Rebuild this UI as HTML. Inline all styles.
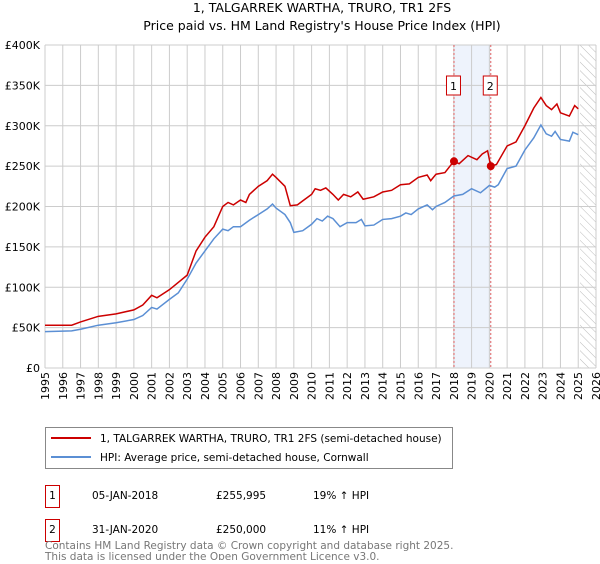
<!DOCTYPE html>
<html><head><meta charset="utf-8"><style>
body{margin:0;background:#fff;font-family:"DejaVu Sans","Liberation Sans",sans-serif;}
svg text{font-family:"DejaVu Sans","Liberation Sans",sans-serif;}
</style></head><body>
<svg id="c" width="600" height="560" xmlns="http://www.w3.org/2000/svg">
<defs><pattern id="hatch" width="6" height="6" patternUnits="userSpaceOnUse" patternTransform="rotate(-45)"><line x1="0" y1="0" x2="0" y2="6" stroke="#bbb" stroke-width="1"/></pattern></defs>
<text x="322" y="12" text-anchor="middle" font-size="12.5" fill="#000">1, TALGARREK WARTHA, TRURO, TR1 2FS</text>
<text x="322" y="30" text-anchor="middle" font-size="12.5" fill="#000">Price paid vs. HM Land Registry's House Price Index (HPI)</text>
<g id="grid"></g><g id="marks"></g><g id="axes"></g>
<rect x="45.5" y="427.5" width="407" height="41" fill="#fff" stroke="#888"/>
<line x1="51" y1="438" x2="91" y2="438" stroke="#cc0000" stroke-width="2"/>
<text x="100" y="442" font-size="10.5">1, TALGARREK WARTHA, TRURO, TR1 2FS (semi-detached house)</text>
<line x1="51" y1="457" x2="91" y2="457" stroke="#5b8fd4" stroke-width="2"/>
<text x="100" y="461" font-size="10.5">HPI: Average price, semi-detached house, Cornwall</text>
<g>
<rect x="45.5" y="485.5" width="14" height="22" fill="none" stroke="#cc0000"/><text x="52.5" y="499" text-anchor="middle" font-size="10.5">1</text>
<text x="92" y="499" font-size="10.5">05-JAN-2018</text><text x="216" y="499" font-size="10.5">£255,995</text><text x="313" y="499" font-size="10.5">19% ↑ HPI</text></g>
<g>
<rect x="45.5" y="519.5" width="14" height="22" fill="none" stroke="#cc0000"/><text x="52.5" y="533" text-anchor="middle" font-size="10.5">2</text>
<text x="92" y="533" font-size="10.5">31-JAN-2020</text><text x="216" y="533" font-size="10.5">£250,000</text><text x="313" y="533" font-size="10.5">11% ↑ HPI</text></g>
<text x="45" y="549" font-size="10.5" fill="#777">Contains HM Land Registry data © Crown copyright and database right 2025.</text>
<text x="45" y="560" font-size="10.5" fill="#777">This data is licensed under the Open Government Licence v3.0.</text>
</svg>
<script>
const hpiYears=[1995,1996.5,1997,1998,1999,2000,2000.5,2001,2001.3,2002,2002.5,2003,2003.5,2004,2004.5,2005,2005.3,2005.6,2006,2006.5,2007,2007.5,2007.8,2008,2008.5,2008.8,2009,2009.5,2010,2010.3,2010.6,2010.9,2011.2,2011.6,2012,2012.5,2012.8,2013,2013.5,2014,2014.5,2015,2015.3,2015.6,2016,2016.5,2016.8,2017,2017.5,2018,2018.5,2019,2019.5,2020,2020.3,2020.5,2021,2021.5,2022,2022.5,2022.9,2023.2,2023.5,2023.7,2024,2024.5,2024.7,2025];
const hpiValues=[45,46,48,53,56,60,65,75,73,85,93,110,130,145,160,172,170,175,175,183,190,197,203,198,190,180,168,170,178,185,182,188,185,175,180,180,184,176,177,184,185,188,192,190,197,202,196,200,205,213,215,222,217,226,224,227,247,250,270,285,301,290,287,293,283,281,292,289];
const priceYears=[1995,1996,1996.5,1997,1998,1999,2000,2000.5,2001,2001.3,2002,2003,2003.5,2004,2004.5,2005,2005.3,2005.6,2006,2006.3,2006.5,2007,2007.5,2007.8,2008,2008.5,2008.8,2009.2,2009.5,2010,2010.2,2010.5,2010.8,2011.2,2011.5,2011.8,2012.2,2012.6,2012.9,2013.5,2014,2014.5,2015,2015.5,2016,2016.5,2016.7,2017,2017.5,2018,2018.3,2018.8,2019.3,2019.6,2019.9,2020.08,2020.4,2021,2021.5,2022,2022.5,2022.9,2023.2,2023.5,2023.8,2024,2024.5,2024.8,2025];
const priceValues=[53,53,53,57,64,67,72,78,90,87,97,115,145,162,175,200,205,202,208,205,215,225,232,240,236,225,201,202,207,215,222,220,223,215,208,215,212,218,209,212,218,220,227,228,236,239,232,240,242,256,253,263,258,265,269,250,252,275,280,300,322,335,325,320,327,316,312,325,321];
const saleYears=[2018.01,2020.08];
const saleValues=[255.995,250];
const saleLabels=["1","2"];
const yTicks=[0,50,100,150,200,250,300,350,400];
const yTickLabels=["£0","£50K","£100K","£150K","£200K","£250K","£300K","£350K","£400K"];
const xTicks=[1995,1996,1997,1998,1999,2000,2001,2002,2003,2004,2005,2006,2007,2008,2009,2010,2011,2012,2013,2014,2015,2016,2017,2018,2019,2020,2021,2022,2023,2024,2025,2026];
const NS="http://www.w3.org/2000/svg";
const X0=45,X1=596,Y0=368,Y1=45;
const x=v=>X0+(v-1995)/(2026-1995)*(X1-X0);
const y=v=>Y0-v/400*(Y0-Y1);
function mk(p,t,a){const e=document.createElementNS(NS,t);for(const k in a)e.setAttribute(k,a[k]);p.appendChild(e);return e;}
const grid=document.getElementById('grid'),marks=document.getElementById('marks'),axes=document.getElementById('axes');
const shade=mk(grid,'rect',{x:x(saleYears[0]),y:Y1,width:x(saleYears[1])-x(saleYears[0]),height:Y0-Y1,fill:'#eef3fc'});


const hatch=mk(grid,'rect',{x:x(2025.1),y:Y1,width:X1-x(2025.1),height:Y0-Y1,fill:'url(#hatch)'});


xTicks.forEach(t=>{const l=mk(grid,'line',{x1:x(t),y1:Y1,x2:x(t),y2:Y0,stroke:'#ccc'});


const tx=mk(axes,'text',{x:x(t)+4,y:Y0+4,'font-size':11,transform:`rotate(-90 ${x(t)+4} ${Y0+4})`,'text-anchor':'end'});tx.textContent=t;

});
yTicks.forEach((t,i)=>{const l=mk(grid,'line',{x1:X0,y1:y(t),x2:X1,y2:y(t),stroke:'#ccc'});


const tx=mk(axes,'text',{x:X0-5,y:y(t)+4,'font-size':11,'text-anchor':'end'});tx.textContent=yTickLabels[i];

});
saleYears.forEach((s,i)=>{const l=mk(marks,'line',{x1:x(s),y1:Y1,x2:x(s),y2:Y0,stroke:'#e06060','stroke-dasharray':'2,2'});


const r=mk(marks,'rect',{x:x(s)-7.5,y:76,width:14,height:19,fill:'#fff',stroke:'#cc0000'});


const t=mk(marks,'text',{x:x(s)-0.5,y:90,'font-size':11,'text-anchor':'middle'});t.textContent=saleLabels[i];

});
function line(xs,vs,col,name){const p=mk(marks,'polyline',{points:xs.map((v,i)=>x(v)+','+y(vs[i])).join(' '),fill:'none',stroke:col,'stroke-width':1.5});

}
line(hpiYears,hpiValues,'#5b8fd4','hpi-line');
line(priceYears,priceValues,'#cc0000','price-line');
saleYears.forEach((s,i)=>{const c=mk(marks,'circle',{cx:x(s),cy:y(saleValues[i]),r:4,fill:'#cc0000'});

});
</script>
</body></html>
